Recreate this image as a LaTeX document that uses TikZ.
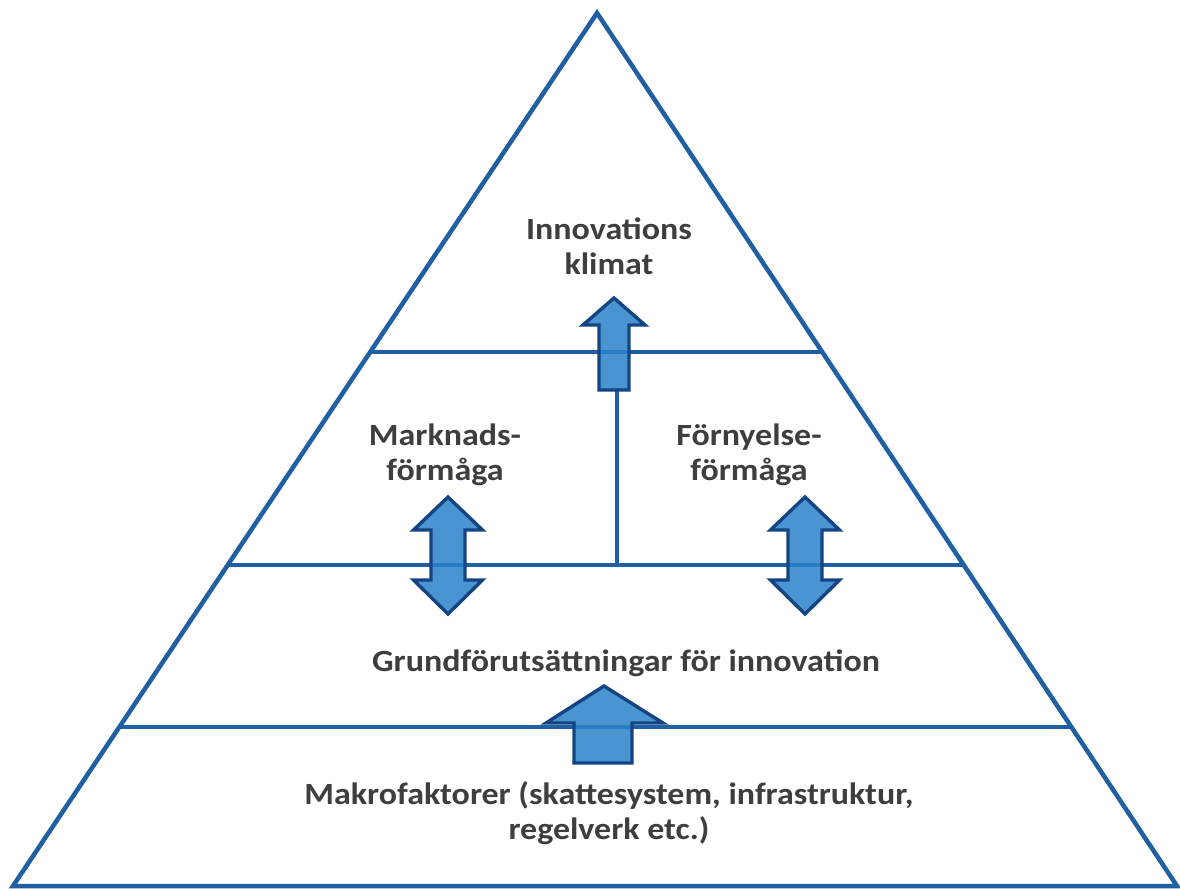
\documentclass[tikz,border=0pt]{standalone}
\usepackage{fontspec}
\setmainfont{Carlito}
\usetikzlibrary{calc}
\definecolor{frameblue}{RGB}{30,96,163}
\definecolor{arrowfill}{RGB}{42,130,202}
\definecolor{arrowedge}{RGB}{20,68,130}
\definecolor{labelgray}{RGB}{62,62,62}
\tikzset{
  frame/.style={draw=frameblue, line width=4.5bp},
  frameshadow/.style={draw=black!35, line width=4bp, opacity=0.35},
  blockarrow/.style={fill=arrowfill, fill opacity=0.85, draw=arrowedge, line width=3.4bp, line join=miter},
  label/.style={text=labelgray, font=\fontsize{31}{35}\selectfont\bfseries, align=center,
    inner sep=0pt, xscale=1.1, transform shape}
}
\begin{document}
\begin{tikzpicture}[x=1bp,y=-1bp]
\useasboundingbox (0,0) rectangle (1180,891);
\fill[white] (0,0) rectangle (1180,891);

% pyramid corners
\coordinate (apex) at (597,13);
\coordinate (bl) at (13,886);
\coordinate (br) at (1177,886);

% tier boundaries along both sides
\coordinate (l1) at ($(apex)!0.3883!(bl)$);
\coordinate (r1) at ($(apex)!0.3883!(br)$);
\coordinate (l2) at ($(apex)!0.6323!(bl)$);
\coordinate (r2) at ($(apex)!0.6323!(br)$);
\coordinate (l3) at ($(apex)!0.8179!(bl)$);
\coordinate (r3) at ($(apex)!0.8179!(br)$);

% stem joining the middle tier to the upper arrow
\coordinate (stemfoot) at (617,565);
\coordinate (stemtop) at (617,388);

% soft shadow under the frame
\begin{scope}[shift={(1.5,2.5)}]
  \draw[frameshadow] (apex) -- (bl) -- (br) -- cycle;
  \draw[frameshadow] (l1) -- (r1);
  \draw[frameshadow] (l2) -- (r2);
  \draw[frameshadow] (l3) -- (r3);
\end{scope}

% frame
\draw[frame, line join=miter] (apex) -- (bl) -- (br) -- cycle;
\draw[frame] (l1) -- (r1);
\draw[frame] (l2) -- (r2);
\draw[frame] (l3) -- (r3);
\draw[frame, line width=4bp] (stemfoot) -- (stemtop);

% upper single arrow
\draw[blockarrow] (614,298) -- (645,325) -- (629,325) -- (629,390) -- (599,390)
  -- (599,325) -- (583,325) -- cycle;

% left double arrow
\draw[blockarrow] (448,497) -- (482.5,530) -- (465,530) -- (465,580) -- (482.5,580)
  -- (448,614) -- (413.5,580) -- (431,580) -- (431,530) -- (413.5,530) -- cycle;

% right double arrow
\draw[blockarrow] (805,497) -- (839.5,530) -- (822,530) -- (822,580) -- (839.5,580)
  -- (805,614) -- (770.5,580) -- (788,580) -- (788,530) -- (770.5,530) -- cycle;

% lower single arrow
\draw[blockarrow] (604,686) -- (663,723) -- (632,723) -- (632,763) -- (574,763)
  -- (574,723) -- (546,723) -- cycle;

% tier labels
\node[label] (klimat) at (609,246) {Innovations\\klimat};
\node[label] (marknad) at (445,455) {Marknads-\\förmåga};
\node[label] (fornyelse) at (749,455) {Förnyelse-\\förmåga};
\node[label] (grund) at (626,663) {Grundförutsättningar för innovation};
\node[label] (makro) at (609,813) {Makrofaktorer (skattesystem, infrastruktur,\\regelverk etc.)};
\end{tikzpicture}
\end{document}
